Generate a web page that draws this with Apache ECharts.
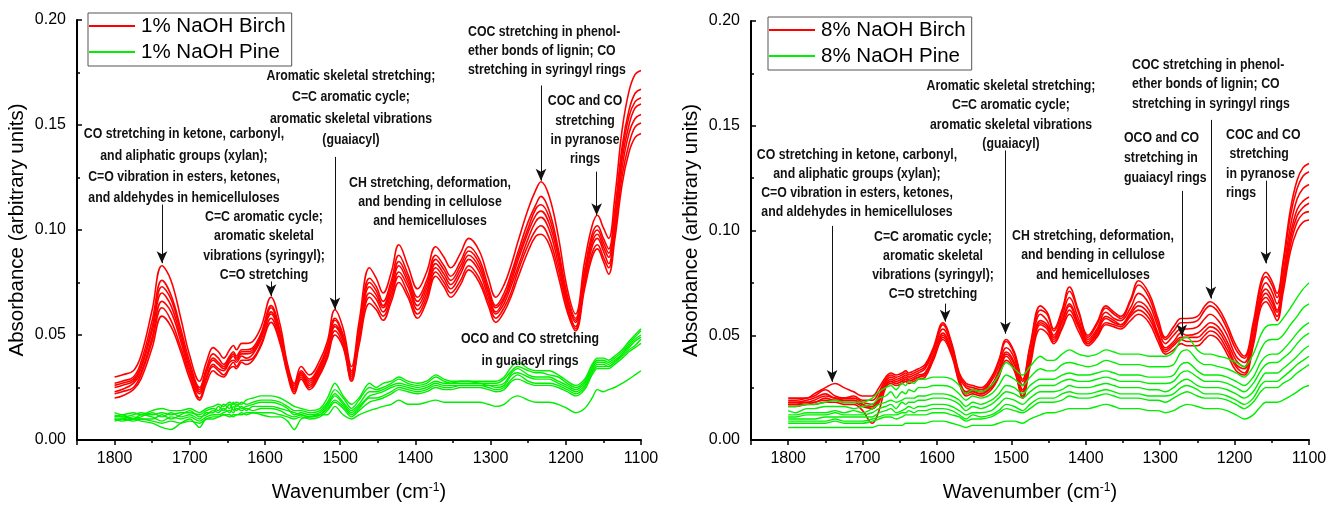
<!DOCTYPE html>
<html><head><meta charset="utf-8">
<script src="https://cdn.jsdelivr.net/npm/echarts@6/dist/echarts.min.js"></script>
<style>html,body{margin:0;padding:0;background:#fff}#chart{width:1336px;height:507px}</style>
</head><body><div id="chart"></div>
<script>
// Wavenumber grid (cm-1) shared by all spectra
const WAVENUMBERS = [1800,1790,1775,1765,1750,1737,1725,1712,1700,1687,1678,1669,1662,1655,1647,1642,1638,1631,1625,1616,1605,1592,1580,1570,1561,1552,1541,1527,1517,1507,1496,1485,1475,1461,1452,1443,1432,1422,1410,1397,1385,1373,1362,1353,1340,1329,1315,1303,1293,1282,1272,1264,1250,1240,1233,1222,1210,1198,1187,1175,1165,1158,1150,1143,1135,1125,1116,1108,1100];

// 1% NaOH Birch (7 spectra)
const BIRCH_1PCT = [
[.030,.031,.033,.040,.062,.083,.076,.058,.040,.028,.037,.044,.042,.039,.043,.045,.043,.046,.046,.047,.054,.068,.055,.036,.027,.035,.031,.038,.047,.062,.053,.035,.056,.082,.077,.070,.080,.093,.083,.072,.080,.092,.087,.082,.089,.096,.090,.077,.068,.074,.084,.094,.110,.119,.123,.116,.097,.072,.060,.085,.102,.107,.101,.096,.115,.148,.166,.174,.176],
[.027,.028,.030,.037,.057,.076,.069,.053,.037,.025,.034,.041,.039,.036,.040,.042,.040,.043,.043,.044,.051,.064,.052,.035,.026,.033,.029,.036,.045,.058,.050,.033,.053,.077,.073,.066,.076,.088,.079,.068,.076,.088,.083,.078,.085,.092,.086,.073,.064,.070,.080,.089,.104,.112,.116,.109,.091,.069,.058,.081,.098,.102,.096,.091,.109,.140,.157,.165,.167],
[.026,.027,.029,.035,.054,.073,.067,.051,.035,.024,.033,.039,.037,.035,.039,.041,.039,.042,.042,.043,.050,.063,.051,.034,.025,.032,.028,.035,.044,.057,.049,.032,.051,.075,.071,.064,.074,.085,.077,.066,.074,.086,.081,.076,.083,.090,.084,.071,.063,.068,.078,.087,.101,.110,.112,.106,.089,.067,.057,.079,.096,.100,.094,.089,.106,.137,.154,.161,.163],
[.025,.026,.028,.034,.052,.070,.064,.049,.034,.023,.032,.038,.036,.034,.038,.040,.038,.041,.041,.042,.049,.061,.050,.033,.024,.032,.027,.034,.043,.055,.048,.031,.050,.073,.069,.063,.072,.083,.075,.064,.072,.084,.079,.074,.081,.088,.082,.070,.061,.067,.076,.085,.099,.107,.109,.103,.087,.066,.056,.078,.094,.098,.092,.087,.104,.134,.150,.158,.160],
[.023,.024,.027,.032,.049,.066,.061,.047,.032,.022,.030,.036,.034,.033,.037,.038,.037,.040,.039,.041,.048,.060,.049,.033,.024,.031,.026,.033,.041,.054,.047,.030,.048,.070,.067,.061,.070,.080,.073,.062,.070,.082,.077,.072,.079,.086,.080,.068,.060,.065,.074,.082,.096,.104,.106,.100,.084,.064,.054,.076,.092,.096,.090,.084,.101,.130,.146,.153,.155],
[.022,.023,.025,.031,.047,.063,.057,.044,.031,.020,.029,.035,.033,.031,.035,.037,.035,.038,.038,.039,.046,.058,.047,.032,.023,.030,.025,.032,.040,.052,.045,.029,.047,.068,.064,.059,.068,.078,.070,.060,.068,.080,.075,.070,.076,.083,.077,.066,.058,.063,.071,.080,.093,.100,.102,.096,.081,.063,.053,.074,.089,.093,.087,.082,.098,.126,.141,.149,.151],
[.020,.021,.024,.029,.044,.059,.054,.042,.029,.019,.027,.033,.031,.030,.034,.035,.034,.037,.036,.038,.045,.056,.046,.031,.022,.029,.024,.031,.039,.050,.044,.028,.045,.065,.062,.057,.066,.075,.068,.058,.066,.078,.073,.068,.074,.081,.075,.064,.056,.061,.069,.077,.090,.097,.098,.093,.078,.061,.052,.072,.087,.091,.085,.079,.095,.122,.137,.144,.146]
];

// 1% NaOH Pine (7 spectra)
const PINE_1PCT = [
[.013,.012,.013,.012,.014,.015,.014,.014,.015,.013,.015,.016,.017,.016,.018,.017,.018,.017,.019,.020,.021,.021,.020,.018,.016,.015,.014,.015,.020,.027,.021,.017,.020,.027,.025,.027,.028,.030,.028,.027,.028,.031,.029,.028,.028,.028,.028,.028,.028,.030,.035,.037,.034,.033,.033,.033,.031,.028,.026,.029,.036,.039,.039,.038,.040,.043,.047,.050,.053],
[.012,.011,.012,.013,.012,.013,.012,.013,.013,.012,.014,.015,.014,.017,.015,.018,.016,.018,.017,.018,.019,.019,.018,.016,.014,.014,.013,.014,.018,.024,.020,.015,.019,.025,.024,.025,.027,.029,.027,.026,.027,.030,.028,.027,.028,.028,.027,.027,.027,.029,.033,.035,.033,.032,.032,.031,.030,.027,.025,.028,.035,.038,.038,.037,.039,.042,.046,.049,.052],
[.011,.012,.010,.011,.013,.011,.013,.011,.012,.010,.013,.013,.016,.014,.017,.014,.017,.015,.016,.017,.018,.018,.017,.015,.012,.013,.012,.013,.017,.022,.018,.014,.017,.023,.023,.024,.026,.027,.026,.025,.026,.028,.027,.027,.027,.027,.027,.026,.026,.027,.032,.034,.031,.030,.030,.030,.028,.026,.024,.027,.034,.037,.037,.036,.038,.041,.045,.048,.050],
[.010,.010,.011,.010,.010,.012,.010,.012,.014,.011,.012,.014,.013,.015,.013,.016,.014,.016,.014,.016,.016,.016,.015,.014,.013,.012,.011,.012,.016,.021,.017,.013,.016,.021,.022,.023,.025,.026,.025,.024,.025,.027,.026,.026,.026,.026,.026,.026,.025,.026,.031,.032,.030,.029,.029,.029,.027,.025,.023,.026,.033,.036,.036,.035,.037,.041,.044,.047,.049],
[.011,.011,.010,.012,.011,.009,.011,.010,.011,.009,.011,.012,.012,.013,.014,.013,.015,.014,.015,.014,.015,.015,.014,.012,.011,.012,.011,.012,.015,.019,.016,.012,.015,.020,.020,.021,.023,.025,.024,.023,.024,.026,.025,.025,.026,.026,.026,.025,.024,.025,.029,.031,.028,.027,.027,.027,.026,.024,.022,.025,.032,.035,.035,.035,.037,.040,.043,.045,.048],
[.009,.010,.009,.010,.009,.008,.009,.008,.009,.008,.010,.011,.011,.012,.011,.012,.012,.013,.012,.013,.013,.013,.012,.011,.010,.011,.010,.011,.014,.018,.015,.011,.014,.018,.019,.020,.022,.024,.023,.022,.023,.025,.024,.024,.025,.025,.025,.024,.023,.024,.028,.029,.027,.026,.026,.026,.025,.023,.021,.024,.031,.034,.034,.034,.036,.039,.042,.044,.046],
[.010,.009,.010,.009,.008,.006,.005,.008,.010,.006,.010,.010,.011,.012,.012,.011,.012,.012,.013,.013,.012,.011,.011,.009,.005,.010,.011,.012,.012,.016,.012,.010,.012,.014,.015,.016,.017,.019,.017,.017,.018,.019,.018,.018,.018,.018,.018,.017,.016,.017,.020,.021,.019,.018,.018,.018,.017,.015,.013,.015,.020,.024,.023,.024,.025,.027,.029,.031,.033]
];

// 8% NaOH Birch (7 spectra)
const BIRCH_8PCT = [
[.020,.020,.020,.022,.025,.027,.025,.023,.021,.021,.025,.030,.032,.031,.032,.033,.032,.033,.034,.036,.044,.056,.046,.032,.027,.026,.025,.030,.038,.048,.042,.029,.045,.064,.061,.053,.062,.073,.062,.050,.056,.064,.061,.059,.067,.076,.070,.058,.049,.054,.058,.058,.059,.064,.066,.063,.055,.045,.040,.056,.075,.080,.076,.070,.085,.110,.124,.130,.132],
[.019,.019,.020,.021,.024,.021,.020,.021,.019,.019,.023,.029,.031,.030,.031,.032,.031,.032,.033,.035,.043,.055,.045,.031,.026,.025,.024,.029,.037,.047,.041,.028,.044,.062,.060,.052,.061,.071,.061,.049,.055,.063,.060,.058,.066,.074,.068,.056,.048,.052,.056,.056,.057,.062,.064,.061,.053,.043,.039,.054,.073,.078,.074,.068,.083,.107,.120,.126,.128],
[.018,.018,.019,.020,.022,.020,.020,.020,.018,.017,.021,.028,.030,.029,.030,.031,.030,.031,.032,.034,.042,.053,.044,.030,.025,.024,.023,.028,.035,.044,.039,.026,.041,.060,.057,.050,.059,.068,.058,.048,.053,.061,.058,.057,.063,.070,.065,.054,.046,.050,.053,.053,.054,.058,.060,.057,.050,.040,.037,.052,.070,.075,.071,.065,.079,.102,.115,.120,.122],
[.018,.018,.018,.019,.021,.020,.019,.019,.017,.016,.020,.027,.029,.028,.029,.030,.029,.030,.031,.032,.040,.051,.042,.029,.023,.024,.023,.026,.033,.042,.037,.024,.039,.057,.055,.049,.057,.065,.056,.047,.052,.059,.057,.055,.061,.066,.062,.051,.044,.047,.051,.050,.051,.054,.056,.054,.047,.038,.035,.049,.068,.072,.068,.062,.076,.098,.110,.114,.116],
[.017,.017,.018,.018,.020,.019,.019,.019,.017,.015,.019,.026,.028,.027,.028,.029,.028,.029,.030,.032,.040,.050,.042,.028,.023,.023,.022,.026,.032,.041,.036,.023,.038,.056,.054,.048,.056,.064,.055,.046,.051,.058,.056,.055,.060,.064,.060,.050,.043,.046,.049,.049,.049,.052,.054,.052,.045,.036,.034,.048,.066,.070,.066,.061,.074,.096,.107,.111,.113],
[.017,.017,.017,.018,.019,.019,.018,.018,.016,.015,.018,.026,.028,.027,.028,.029,.028,.029,.030,.031,.039,.049,.041,.028,.022,.023,.022,.025,.031,.040,.034,.021,.037,.055,.053,.047,.054,.062,.054,.046,.050,.056,.055,.054,.059,.062,.058,.049,.042,.045,.048,.047,.047,.050,.052,.050,.043,.035,.032,.047,.065,.068,.064,.059,.072,.093,.104,.108,.109],
[.016,.016,.017,.017,.018,.018,.017,.017,.014,.008,.014,.025,.027,.026,.027,.028,.027,.028,.029,.030,.038,.048,.040,.027,.021,.022,.021,.024,.030,.038,.033,.020,.035,.053,.051,.046,.053,.060,.052,.045,.049,.055,.054,.053,.057,.060,.056,.047,.041,.043,.046,.045,.045,.048,.050,.048,.041,.033,.031,.045,.063,.066,.062,.057,.070,.090,.100,.104,.105]
];

// 8% NaOH Pine (8 spectra)
const PINE_8PCT = [
[.016,.016,.017,.017,.018,.019,.018,.018,.018,.020,.023,.025,.026,.024,.027,.026,.028,.027,.029,.029,.030,.030,.029,.026,.022,.024,.023,.026,.031,.037,.034,.031,.035,.040,.038,.038,.041,.043,.041,.040,.041,.043,.042,.041,.041,.041,.040,.040,.040,.042,.048,.049,.043,.041,.041,.040,.039,.037,.035,.041,.050,.054,.055,.055,.058,.063,.068,.072,.075],
[.014,.013,.015,.015,.016,.016,.016,.015,.016,.017,.020,.021,.023,.020,.023,.022,.024,.023,.025,.025,.026,.026,.025,.022,.019,.021,.020,.022,.026,.031,.029,.026,.030,.034,.033,.033,.036,.037,.036,.035,.036,.038,.037,.036,.036,.036,.035,.035,.035,.036,.042,.043,.038,.036,.036,.035,.034,.032,.030,.035,.043,.047,.048,.048,.050,.055,.059,.063,.065],
[.012,.012,.013,.013,.013,.014,.013,.014,.013,.015,.017,.018,.019,.018,.019,.020,.020,.020,.021,.021,.022,.022,.021,.019,.016,.018,.017,.019,.022,.026,.025,.022,.026,.029,.029,.029,.031,.032,.031,.031,.032,.033,.032,.031,.031,.031,.030,.030,.030,.031,.036,.037,.033,.031,.031,.031,.030,.028,.026,.030,.037,.040,.041,.041,.043,.047,.051,.054,.056],
[.011,.011,.012,.012,.012,.013,.012,.012,.012,.013,.015,.016,.017,.015,.018,.017,.018,.018,.019,.019,.020,.020,.019,.017,.014,.016,.015,.017,.020,.023,.022,.020,.023,.026,.026,.026,.028,.029,.028,.028,.029,.030,.029,.028,.028,.028,.027,.027,.027,.028,.032,.033,.030,.028,.028,.028,.027,.025,.023,.027,.033,.036,.037,.037,.039,.042,.046,.049,.051],
[.010,.010,.010,.010,.011,.011,.011,.011,.011,.011,.013,.014,.015,.013,.014,.015,.016,.015,.016,.016,.017,.017,.016,.014,.012,.013,.013,.014,.017,.020,.019,.017,.020,.023,.023,.023,.024,.026,.025,.025,.026,.027,.026,.025,.025,.025,.024,.024,.023,.025,.028,.029,.026,.025,.025,.025,.024,.022,.020,.023,.029,.032,.032,.032,.034,.037,.040,.043,.045],
[.009,.009,.009,.009,.009,.010,.009,.009,.009,.010,.011,.012,.012,.012,.013,.013,.014,.013,.014,.014,.015,.015,.014,.012,.010,.012,.011,.012,.014,.017,.016,.014,.017,.020,.020,.020,.022,.023,.022,.022,.023,.024,.023,.022,.022,.022,.021,.021,.021,.022,.025,.026,.024,.022,.022,.022,.021,.019,.017,.020,.026,.028,.028,.028,.030,.033,.036,.038,.040],
[.008,.008,.008,.008,.008,.009,.008,.008,.008,.009,.010,.011,.011,.010,.011,.012,.012,.012,.012,.012,.013,.013,.012,.011,.009,.010,.010,.011,.013,.015,.014,.013,.015,.018,.018,.018,.019,.021,.020,.020,.021,.022,.021,.020,.020,.020,.019,.019,.018,.020,.022,.023,.021,.020,.020,.020,.019,.017,.015,.018,.023,.025,.025,.025,.027,.029,.032,.034,.036],
[.006,.006,.006,.006,.006,.006,.006,.006,.006,.006,.007,.007,.007,.007,.007,.008,.008,.008,.008,.008,.009,.009,.008,.007,.006,.007,.007,.007,.008,.009,.009,.008,.010,.012,.013,.013,.014,.015,.015,.015,.016,.017,.016,.015,.015,.015,.014,.014,.013,.014,.016,.017,.016,.015,.015,.015,.014,.012,.010,.012,.016,.018,.018,.018,.019,.021,.023,.025,.026]
];

const LEGEND_LEFT = ['1% NaOH Birch', '1% NaOH Pine'];
const LEGEND_RIGHT = ['8% NaOH Birch', '8% NaOH Pine'];
const Y_LABEL = 'Absorbance (arbitrary units)';
const X_LABEL = 'Wavenumber (cm{sup|-1})';

// Arrows: [wavenumber, start absorbance, tip absorbance]
const ARROWS_LEFT = [[1737,.1121,.0842],[1592,.0755,.0684],[1507,.1348,.0621],[1233,.1688,.1235],[1159,.1278,.1070]];
const ARROWS_RIGHT = [[1741,.1022,.0277],[1589,.0651,.0565],[1508,.1382,.0507],[1271,.1189,.0494],[1232,.1528,.0675],[1158,.1238,.0843]];

const NOTE_TEXTS = {
  co: 'CO stretching in ketone, carbonyl,\nand aliphatic groups (xylan);\nC=O vibration in esters, ketones,\nand aldehydes in hemicelluloses',
  arom: 'Aromatic skeletal stretching;\nC=C aromatic cycle;\naromatic skeletal vibrations\n(guaiacyl)',
  syr: 'C=C aromatic cycle;\naromatic skeletal\nvibrations (syringyl);\nC=O stretching',
  ch: 'CH stretching, deformation,\nand bending in cellulose\nand hemicelluloses',
  coc: 'COC stretching in phenol-\nether bonds of lignin; CO\nstretching in syringyl rings',
  pyr: 'COC and CO\nstretching\nin pyranose\nrings',
  pyr2: 'COC and CO\n stretching\nin pyranose\nrings',
  oco1: 'OCO and CO stretching\nin guaiacyl rings',
  oco8: 'OCO and CO\nstretching in\nguaiacyl rings'
};

const SANS = '"Liberation Sans",Arial,Helvetica,sans-serif';
const RED = '#ff0000', GREEN = '#00ee00';

const NOTES = [
  [NOTE_TEXTS.co, 184, 123.7, 'center', 21.2],
  [NOTE_TEXTS.arom, 351, 65.3, 'center', 21.3],
  [NOTE_TEXTS.syr, 264, 207.3, 'center', 19.3],
  [NOTE_TEXTS.ch, 430, 173, 'center', 19.2],
  [NOTE_TEXTS.coc, 468, 22.8, 'left', 19],
  [NOTE_TEXTS.pyr, 585, 91.3, 'center', 19.4],
  [NOTE_TEXTS.oco1, 530, 328.5, 'center', 21.7],
  [NOTE_TEXTS.co, 857, 145.5, 'center', 19.1],
  [NOTE_TEXTS.syr, 933, 227, 'center', 19.1],
  [NOTE_TEXTS.arom, 1011, 76.3, 'center', 19.3],
  [NOTE_TEXTS.ch, 1093, 226.3, 'center', 19.3],
  [NOTE_TEXTS.oco8, 1124, 128.5, 'left', 19.7],
  [NOTE_TEXTS.coc, 1132, 55.4, 'left', 19.2],
  [NOTE_TEXTS.pyr2, 1226, 125.4, 'left', 19.2]
];

function arrowLine(list) {
  return {
    silent: true, animation: false,
    symbol: ['none', 'arrow'], symbolSize: [8, 12],
    lineStyle: { color: '#111', width: 1, type: 'solid' },
    label: { show: false },
    emphasis: { disabled: true },
    data: list.map(a => [{ coord: [a[0], a[1]] }, { coord: [a[0], a[2]] }])
  };
}

function lineSeries(values, name, color, idx, smooth, width) {
  return {
    type: 'line', name: name, xAxisIndex: idx, yAxisIndex: idx,
    data: WAVENUMBERS.map((w, i) => [w, values[i]]),
    symbol: 'none', showSymbol: false, smooth: smooth,
    lineStyle: { color: color, width: width }, itemStyle: { color: color },
    emphasis: { disabled: true }, animation: false
  };
}

const series = [];
BIRCH_1PCT.forEach(v => series.push(lineSeries(v, LEGEND_LEFT[0], RED, 0, 0.4, 1.6)));
PINE_1PCT.forEach(v => series.push(lineSeries(v, LEGEND_LEFT[1], GREEN, 0, 0.3, 1.4)));
BIRCH_8PCT.forEach(v => series.push(lineSeries(v, LEGEND_RIGHT[0], RED, 1, 0.4, 1.6)));
PINE_8PCT.forEach(v => series.push(lineSeries(v, LEGEND_RIGHT[1], GREEN, 1, 0.3, 1.4)));
series[0].markLine = arrowLine(ARROWS_LEFT);
series[BIRCH_1PCT.length + PINE_1PCT.length].markLine = arrowLine(ARROWS_RIGHT);

function xAxis(idx) {
  return {
    type: 'value', gridIndex: idx, min: 1100, max: 1850, interval: 100, inverse: true,
    name: X_LABEL, nameLocation: 'middle', nameGap: 42,
    nameTextStyle: { fontSize: 20, color: '#000', fontFamily: SANS,
      rich: { sup: { fontSize: 12, verticalAlign: 'top', fontFamily: SANS, color: '#000' } } },
    axisLine: { show: true, onZero: false, lineStyle: { color: '#000', width: 2 } },
    axisTick: { show: true, inside: false, length: 5, lineStyle: { color: '#000', width: 1.5 } },
    minorTick: { show: true, splitNumber: 2, length: 3, lineStyle: { color: '#000', width: 1.5 } },
    axisLabel: { fontSize: 16, color: '#000', fontFamily: SANS, margin: 11, showMaxLabel: false,
      formatter: v => String(v) },
    splitLine: { show: false }
  };
}
function yAxis(idx) {
  return {
    type: 'value', gridIndex: idx, min: 0, max: 0.2, interval: 0.05,
    name: Y_LABEL, nameLocation: 'middle', nameGap: 49, nameRotate: 90,
    nameTextStyle: { fontSize: 20.5, color: '#000', fontFamily: SANS },
    axisLine: { show: true, onZero: false, lineStyle: { color: '#000', width: 2 } },
    axisTick: { show: true, inside: true, length: 5, lineStyle: { color: '#000', width: 1.5 } },
    minorTick: { show: true, splitNumber: 2, length: 3, lineStyle: { color: '#000', width: 1.5 } },
    axisLabel: { fontSize: 16, color: '#000', fontFamily: SANS, margin: 11, formatter: v => v.toFixed(2) },
    splitLine: { show: false }
  };
}
function legend(names, left, top) {
  return {
    data: names, left: left, top: top, orient: 'vertical',
    icon: 'rect', itemWidth: 46, itemHeight: 2, itemGap: 2,
    padding: [1, 6, 2, 1],
    borderColor: '#555', borderWidth: 1, backgroundColor: '#fff',
    selectedMode: false,
    textStyle: { fontSize: 20.5, color: '#000', fontFamily: SANS, lineHeight: 24, padding: [0, 0, 0, 1] }
  };
}

const chart = echarts.init(document.getElementById('chart'), null, { renderer: 'canvas' });
chart.setOption({
  animation: false,
  backgroundColor: '#fff',
  grid: [
    { left: 77, top: 20, width: 564, height: 423, containLabel: false },
    { left: 751, top: 21, width: 558, height: 424, containLabel: false }
  ],
  xAxis: [xAxis(0), xAxis(1)],
  yAxis: [yAxis(0), yAxis(1)],
  legend: [legend(LEGEND_LEFT, 88, 13), legend(LEGEND_RIGHT, 768, 17)],
  series: series,
  graphic: NOTES.map(n => ({
    type: 'text', silent: true, z: 100,
    x: n[1], y: n[2], scaleX: 0.82, scaleY: 1,
    style: { text: n[0], x: 0, y: 0, align: n[3], verticalAlign: 'top',
      lineHeight: n[4], fontSize: 15, fontWeight: 'bold', fontFamily: SANS, fill: '#111' }
  }))
});
</script></body></html>
